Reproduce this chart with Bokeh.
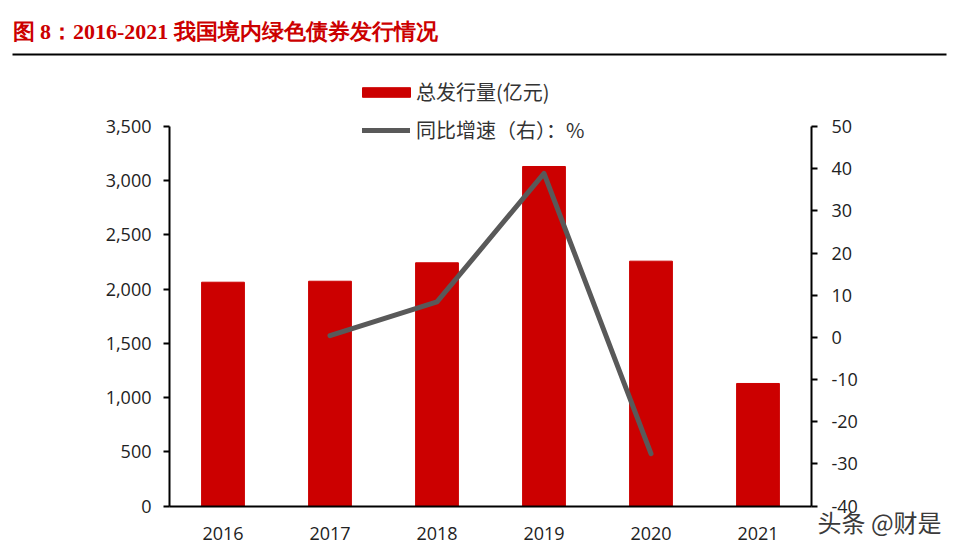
from bokeh.plotting import figure
from bokeh.models import (Range1d, LinearAxis, NumeralTickFormatter, FixedTicker,
                          Legend, LegendItem, Label, BoxAnnotation)
from bokeh.embed import file_html
from bokeh.resources import INLINE

# ---- data ----
years = ["2016", "2017", "2018", "2019", "2020", "2021"]
issuance = [2064, 2073, 2243, 3131, 2258, 1130]          # 总发行量(亿元)
growth_years = ["2017", "2018", "2019", "2020"]
growth = [0.4, 8.4, 38.9, -27.6]                          # 同比增速（右）：%
left_ticks = [0, 500, 1000, 1500, 2000, 2500, 3000, 3500]
right_ticks = [-40, -30, -20, -10, 0, 10, 20, 30, 40, 50]

title_text = "图 8：2016-2021 我国境内绿色债券发行情况"
bar_label = "总发行量(亿元)"
line_label = "同比增速（右）：%"
watermark = "头条 @财是"

TICK_FONT = "Open Sans"
CJK_FONT = "Noto Sans CJK SC"

# ---- layout geometry (pixels) ----
W, H = 958, 550
AX_L, AX_R = 169, 811        # x of left / right value axes
AX_T, AX_B = 126, 505.5      # y of top / bottom of value axes

n = len(years)
px_per_cat = (AX_R - AX_L) / n
x_start = -AX_L / px_per_cat
x_end = n + (W - AX_R) / px_per_cat

lmin, lmax = left_ticks[0], left_ticks[-1]
rmin, rmax = right_ticks[0], right_ticks[-1]
lppu = (AX_B - AX_T) / (lmax - lmin)
rppu = (AX_B - AX_T) / (rmax - rmin)
y_start = lmin - (H - AX_B) / lppu
y_end = lmax + AX_T / lppu
r_start = rmin - (H - AX_B) / rppu
r_end = rmax + AX_T / rppu

xpos = {y: i + 0.5 for i, y in enumerate(years)}
bar_x = [xpos[y] for y in years]
line_x = [xpos[y] for y in growth_years]

p = figure(width=W, height=H, x_range=Range1d(x_start, x_end),
           y_range=Range1d(y_start, y_end), output_backend="svg",
           toolbar_location=None, x_axis_type=None, y_axis_type=None,
           min_border=0, min_border_left=0, min_border_right=0,
           min_border_top=0, min_border_bottom=0)
p.outline_line_color = None
p.grid.visible = False
p.background_fill_color = "white"
p.border_fill_color = "white"
p.extra_y_ranges = {"r": Range1d(r_start, r_end)}

bars = p.vbar(x=bar_x, top=issuance, width=0.4, color="#CC0000")
line = p.line(x=line_x, y=growth, y_range_name="r", line_color="#595959",
              line_width=5, line_cap="round", line_join="round")


def style(ax):
    ax.axis_line_color = "black"
    ax.axis_line_width = 2
    ax.major_label_text_font = TICK_FONT
    ax.major_label_text_font_size = "18px"
    ax.major_label_text_color = "#222222"
    ax.minor_tick_line_color = None
    ax.major_tick_out = 6
    ax.major_tick_in = 0
    ax.major_tick_line_width = 2
    ax.major_label_standoff = 12


xa = LinearAxis(fixed_location=lmin, bounds=(0, n),
                ticker=FixedTicker(ticks=bar_x),
                major_label_overrides={xpos[y]: y for y in years})
style(xa)
xa.major_tick_line_color = None
xa.major_tick_out = 0
xa.major_label_standoff = 21
p.add_layout(xa, "below")

yl = LinearAxis(fixed_location=0, bounds=(lmin, lmax),
                ticker=FixedTicker(ticks=left_ticks),
                formatter=NumeralTickFormatter(format="0,0"))
style(yl)
p.add_layout(yl, "left")

yr = LinearAxis(y_range_name="r", fixed_location=n, bounds=(rmin, rmax),
                ticker=FixedTicker(ticks=right_ticks),
                formatter=NumeralTickFormatter(format="0"))
style(yr)
yr.major_label_standoff = 14
p.add_layout(yr, "right")

# legends (two, to control glyph sizes individually)
common = dict(label_height=28, padding=0, margin=0, spacing=0,
              border_line_color=None, background_fill_alpha=0,
              label_text_font=CJK_FONT, label_text_font_size="20px",
              label_text_color="#333333")
leg1 = Legend(items=[LegendItem(label=bar_label, renderers=[bars])],
              location=(356, H - 92 - 14), glyph_width=60, glyph_height=12,
              label_standoff=0, **common)
leg2 = Legend(items=[LegendItem(label=line_label, renderers=[line])],
              location=(362, H - 130 - 14), glyph_width=48, glyph_height=12,
              label_standoff=6, **common)
p.add_layout(leg1, "center")
p.add_layout(leg2, "center")

# title and underline
p.add_layout(Label(x=12, y=H - 31, x_units="screen", y_units="screen", text=title_text,
                   text_font="Liberation Serif", text_font_style="bold",
                   text_font_size="22px", text_color="#CC0000", text_baseline="middle"))
p.add_layout(BoxAnnotation(left=12, right=946, bottom=H - 55, top=H - 53,
                           left_units="screen", right_units="screen",
                           bottom_units="screen", top_units="screen",
                           fill_color="black", fill_alpha=1, line_color=None))

# watermark
p.add_layout(Label(x=817, y=H - 521, x_units="screen", y_units="screen", text=watermark,
                   text_font=CJK_FONT, text_font_size="24px", text_color="#3a3a3a",
                   text_baseline="middle"))

open("out.html", "w").write(file_html(p, INLINE))
